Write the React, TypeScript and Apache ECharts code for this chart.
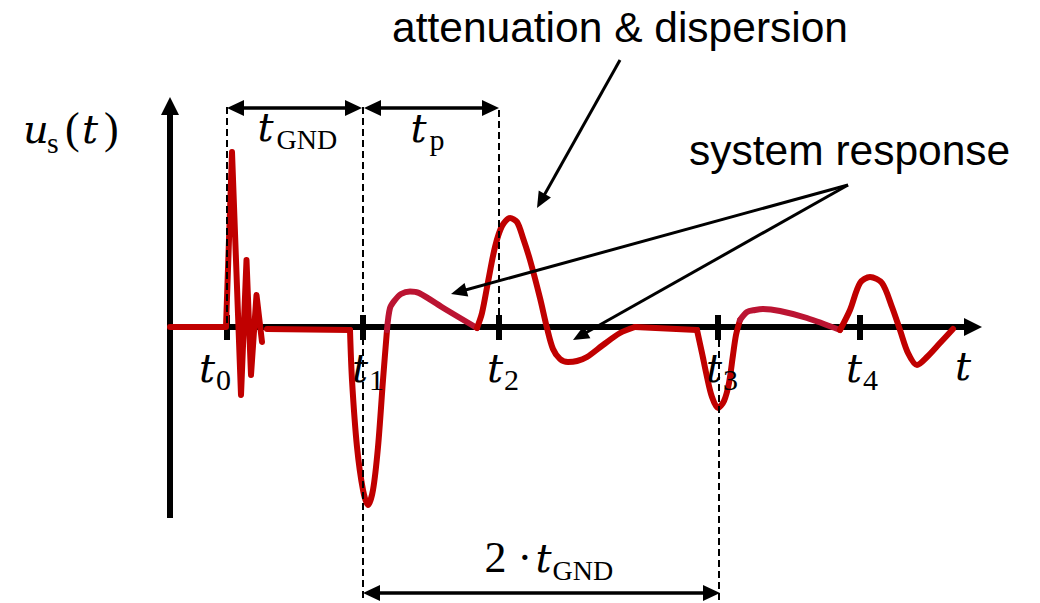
import React, { useEffect, useRef } from "react";
import * as echarts from "echarts";

// Signal u_s(t): time in arbitrary units, amplitude in arbitrary units.
const incidentPulse = [
  [0, 0], [0.56, 0], [0.62, 1.75], [0.71, -0.68], [0.765, 0.67],
  [0.81, -0.48], [0.865, 0.32], [0.92, -0.15],
];
const quietGap = [[0.97, -0.02], [1.8, -0.03]];
const firstReflection = [
  [1.8, -0.03], [1.82, -0.53], [1.87, -1.2], [1.93, -1.63], [1.98, -1.78],
  [2.03, -1.63], [2.08, -1.2], [2.13, -0.53], [2.17, -0.03],
];
const firstResponse = [
  [2.17, -0.03], [2.2, 0.19], [2.25, 0.27], [2.31, 0.33], [2.4, 0.355],
  [2.49, 0.34], [2.75, 0.18], [3.07, -0.01],
];
const dispersedPulse = [
  [3.07, -0.01], [3.12, 0.14], [3.18, 0.45], [3.25, 0.8], [3.32, 1.01],
  [3.4, 1.09], [3.47, 1.05], [3.53, 0.89], [3.6, 0.67], [3.7, 0.29],
  [3.77, -0.01], [3.83, -0.22], [3.9, -0.32], [3.98, -0.35], [4.07, -0.34],
  [4.17, -0.3], [4.33, -0.18], [4.5, -0.06], [4.65, 0.0],
];
const plateau = [[4.65, 0.0], [5.27, -0.03]];
const secondReflection = [
  [5.27, -0.03], [5.32, -0.26], [5.37, -0.5], [5.42, -0.7], [5.48, -0.81],
  [5.54, -0.74], [5.59, -0.56], [5.63, -0.28], [5.66, -0.08], [5.7, 0.07],
];
const secondResponse = [
  [5.7, 0.07], [5.77, 0.15], [5.85, 0.17], [5.93, 0.18], [6.1, 0.16],
  [6.37, 0.09], [6.7, -0.03],
];
const lateEcho = [
  [6.7, -0.03], [6.8, 0.17], [6.9, 0.44], [7.0, 0.5], [7.12, 0.44],
  [7.22, 0.2], [7.3, -0.03], [7.38, -0.26], [7.47, -0.38], [7.57, -0.3],
  [7.7, -0.16], [7.83, -0.02],
];

// Marked instants t0..t4 on the time axis
const tickTimes = [0.57, 1.93, 3.29, 5.48, 6.9];
const tickSubs = ["0", "1", "2", "3", "4"];

// Construction lines: [t1, u1, t2, u2]
const axisLines = [[0, -1.91, 0, 2.3], [0, 0, 8.12, 0]];
const guideLines = [
  [0.57, 2.2, 0.57, 0],
  [1.93, 2.2, 1.93, -2.73],
  [3.29, 2.17, 3.29, 0],
  [5.49, -0.13, 5.49, -2.73],
];
const spanArrows = [
  [0.57, 2.19, 1.92, 2.19],
  [1.94, 2.19, 3.29, 2.19],
  [1.93, -2.66, 5.5, -2.66],
];
const pointerArrows = [
  [4.5, 2.67, 3.67, 1.19],
  [6.78, 1.42, 2.81, 0.33],
  [6.78, 1.42, 4.03, -0.13],
];

const RED = "#C00000";
const CRIMSON = "#BB1432";
const INK = "#000000";

// line styles by index: axis, tick, guide, span, pointer
const STYLES = [
  { lw: 6, hl: 18, hw: 18, dash: null },
  { lw: 6, hl: 0, hw: 0, dash: null },
  { lw: 2, hl: 0, hw: 0, dash: [7, 4] },
  { lw: 3.5, hl: 17, hw: 16, dash: null },
  { lw: 3, hl: 16, hw: 14, dash: null },
];

function renderArrow(params: any, api: any) {
  const p1 = api.coord([api.value(0), api.value(1)]);
  const p2 = api.coord([api.value(2), api.value(3)]);
  const s = STYLES[api.value(6)];
  const dx = p2[0] - p1[0];
  const dy = p2[1] - p1[1];
  const len = Math.hypot(dx, dy) || 1;
  const ux = dx / len;
  const uy = dy / len;
  let a = [p1[0], p1[1]];
  let b = [p2[0], p2[1]];
  const heads: any[] = [];
  const head = (tip: number[], vx: number, vy: number) => {
    const bx = tip[0] - vx * s.hl;
    const by = tip[1] - vy * s.hl;
    const nx = -vy;
    const ny = vx;
    return {
      type: "polygon",
      shape: {
        points: [
          [tip[0], tip[1]],
          [bx + (nx * s.hw) / 2, by + (ny * s.hw) / 2],
          [bx - (nx * s.hw) / 2, by - (ny * s.hw) / 2],
        ],
      },
      style: { fill: INK },
    };
  };
  if (api.value(4)) {
    heads.push(head(p1, -ux, -uy));
    a = [p1[0] + ux * s.hl * 0.7, p1[1] + uy * s.hl * 0.7];
  }
  if (api.value(5)) {
    heads.push(head(p2, ux, uy));
    b = [p2[0] - ux * s.hl * 0.7, p2[1] - uy * s.hl * 0.7];
  }
  const line = {
    type: "line",
    shape: { x1: a[0], y1: a[1], x2: b[0], y2: b[1] },
    style: {
      stroke: INK,
      lineWidth: s.lw,
      lineDash: s.dash || undefined,
      fill: null,
    },
  };
  return { type: "group", children: [line, ...heads] };
}

function signalSeries(data: number[][], color: string, smooth: number | boolean) {
  return {
    type: "line",
    data,
    symbol: "none",
    smooth,
    clip: false,
    z: 3,
    lineStyle: { color, width: 6, cap: "round", join: "round" },
  };
}

export default function App() {
  const ref = useRef<HTMLDivElement>(null);

  useEffect(() => {
    if (!ref.current) return;
    const chart = echarts.init(ref.current, undefined, { renderer: "svg" });

    const baseItems = [
      ...axisLines.map((l) => [...l, 0, 1, 0]),
      ...tickTimes.map((t) => [t, 0.12, t, -0.13, 0, 0, 1]),
    ];
    const overlayItems = [
      ...guideLines.map((l) => [...l, 0, 0, 2]),
      ...spanArrows.map((l) => [...l, 1, 1, 3]),
      ...pointerArrows.map((l) => [...l, 0, 1, 4]),
    ];

    chart.setOption({
      animation: false,
      backgroundColor: "#ffffff",
      grid: { left: 170, top: 27, width: 870, height: 560 },
      xAxis: { type: "value", min: 0, max: 8.7, show: false },
      yAxis: { type: "value", min: -2.6, max: 3.0, show: false },
      series: [
        {
          type: "custom",
          renderItem: renderArrow,
          data: baseItems,
          clip: false,
          z: 2,
          silent: true,
        },
        signalSeries(incidentPulse, RED, false),
        signalSeries(quietGap, RED, false),
        signalSeries(firstReflection, RED, 0.3),
        signalSeries(firstResponse, CRIMSON, 0.3),
        signalSeries(dispersedPulse, RED, 0.3),
        signalSeries(plateau, RED, false),
        signalSeries(secondReflection, RED, 0.3),
        signalSeries(secondResponse, CRIMSON, 0.3),
        signalSeries(lateEcho, RED, 0.3),
        {
          type: "custom",
          renderItem: renderArrow,
          data: overlayItems,
          clip: false,
          z: 4,
          silent: true,
        },
      ],
    });

    const px = (t: number, u: number) =>
      chart.convertToPixel({ gridIndex: 0 }, [t, u]) as number[];

    const MI = "'DejaVu Serif'";
    const MR = "'Liberation Serif'";
    const SANS = "'Liberation Sans'";
    const txt = (
      s: string,
      x: number,
      baseline: number,
      size: number,
      family: string,
      italic = false
    ) => ({
      type: "text",
      x,
      y: baseline - 0.34 * size,
      silent: true,
      z: 10,
      style: {
        text: s,
        font: `${italic ? "italic " : ""}${size}px ${family}`,
        fill: INK,
        align: "left",
        verticalAlign: "middle",
        textAlign: "left",
        textVerticalAlign: "middle",
      },
    });

    const T = 40; // italic math size
    const SUB = 30; // subscript size
    const tickDx = [-28, -11, -12, -12, -14];
    const labels: any[] = [];

    tickTimes.forEach((t, i) => {
      const p = px(t, 0);
      labels.push(txt("t", p[0] + tickDx[i], p[1] + 55, T, MI, true));
      labels.push(txt(tickSubs[i], p[0] + tickDx[i] + 17, p[1] + 63, SUB, MR));
    });

    const tEnd = px(axisLines[1][2], 0);
    labels.push(txt("t", tEnd[0] - 27, tEnd[1] + 53, T, MI, true));

    // ordinate label u_s(t)
    labels.push(txt("u", 23, 143, T, MI, true));
    labels.push(txt("s", 47, 153, SUB, MR));
    labels.push(txt("(", 65, 143, 44, MR));
    labels.push(txt("t", 82, 143, T, MI, true));
    labels.push(txt(")", 104, 143, 44, MR));

    // span labels
    const g1 = px((spanArrows[0][0] + spanArrows[0][2]) / 2, spanArrows[0][1]);
    labels.push(txt("t", g1[0] - 37, g1[1] + 33, T, MI, true));
    labels.push(txt("GND", g1[0] - 18, g1[1] + 41, SUB - 2, MR));

    const g2 = px((spanArrows[1][0] + spanArrows[1][2]) / 2, spanArrows[1][1]);
    labels.push(txt("t", g2[0] - 21, g2[1] + 34, T, MI, true));
    labels.push(txt("p", g2[0] - 2, g2[1] + 42, SUB, MR));

    const g3 = px((spanArrows[2][0] + spanArrows[2][2]) / 2, spanArrows[2][1]);
    labels.push(txt("2 \u00B7", g3[0] - 57, g3[1] - 21, 44, MR));
    labels.push(txt("t", g3[0] - 6, g3[1] - 21, T, MI, true));
    labels.push(txt("GND", g3[0] + 11, g3[1] - 13, SUB - 2, MR));

    // annotations
    labels.push(txt("attenuation & dispersion", 392, 42, 42.5, SANS));
    labels.push(txt("system response", 689, 165, 42.5, SANS));

    chart.setOption({ graphic: labels });

    return () => chart.dispose();
  }, []);

  return (
    <div
      ref={ref}
      style={{
        position: "fixed",
        left: 0,
        top: 0,
        width: 1040,
        height: 603,
        background: "#ffffff",
      }}
    />
  );
}
